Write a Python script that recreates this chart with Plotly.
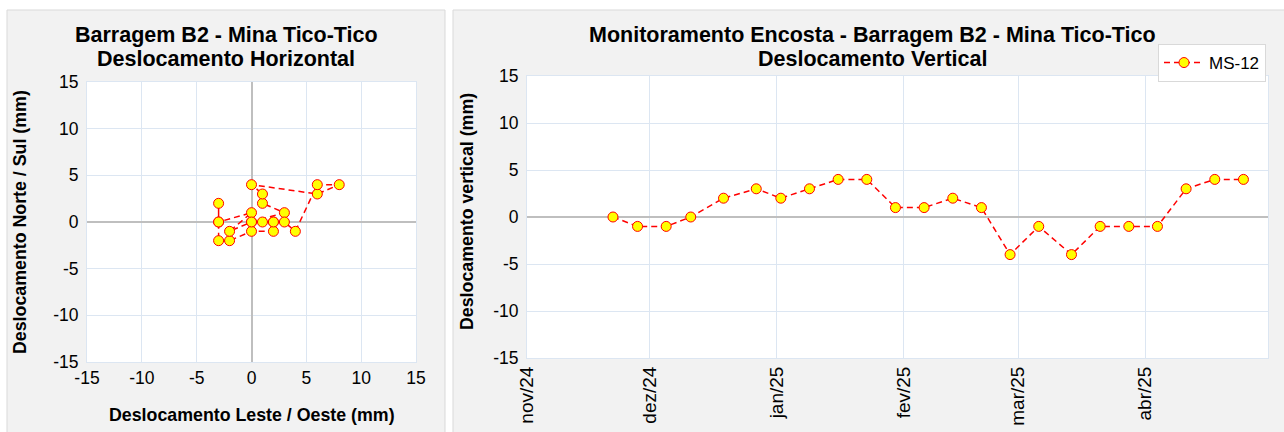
import plotly.graph_objects as go

W, H = 1284, 432

# ---- Data ----
# Horizontal displacement (East/West, North/South) in mm
leste_oeste = [0, 1, 2, 2, 0, -2, -3, -3, -3, -3, 0, -2, 0, 3, 1, 1, 0, 6, 8, 6, 4, 3, 2]
norte_sul = [0, 0, 0, -1, -1, -2, -2, 0, 2, 0, 1, -1, 0, 1, 2, 3, 4, 3, 4, 4, -1, 0, 0]

# Vertical displacement time series (MS-12)
datas = ["2024-11-22", "2024-11-28", "2024-12-05", "2024-12-11", "2024-12-19", "2024-12-27",
         "2025-01-02", "2025-01-09", "2025-01-16", "2025-01-23", "2025-01-30", "2025-02-06",
         "2025-02-13", "2025-02-20", "2025-02-27", "2025-03-06", "2025-03-14", "2025-03-21",
         "2025-03-28", "2025-04-04", "2025-04-11", "2025-04-18", "2025-04-25"]
vertical = [0, -1, -1, 0, 2, 3, 2, 3, 4, 4, 1, 1, 2, 1, -4, -1, -4, -1, -1, -1, 3, 4, 4]

mes_vals = ["2024-11-01", "2024-12-01", "2025-01-01", "2025-02-01", "2025-03-01", "2025-04-01"]
mes_text = ["nov/24", "dez/24", "jan/25", "fev/25", "mar/25", "abr/25"]
eixo_vals = [-15, -10, -5, 0, 5, 10, 15]
eixo_text = ["-15", "-10", "-5", "0", "5", "10", "15"]

FONT = "Arial, Liberation Sans, sans-serif"
GRID = "#dce6f2"
ZERO = "#bfbfbf"
PANEL = "#f2f2f2"
TICK_SIZE = 17.5
DATE_TICK_SIZE = 19
AXTITLE_SIZE = 17.8
TITLE_SIZE = 21.5

def px(x):
    return x / W

def py(y):
    return 1 - y / H

marker = dict(size=10, color="#ffff00", line=dict(color="#ff0000", width=1))
line = dict(color="#ff0000", width=1.5, dash="6px,4px")

fig = go.Figure()
fig.add_trace(go.Scatter(x=leste_oeste, y=norte_sul, mode="lines+markers",
                         marker=marker, line=line, showlegend=False,
                         xaxis="x", yaxis="y"))
fig.add_trace(go.Scatter(x=datas, y=vertical, mode="lines+markers",
                         marker=marker, line=line, name="MS-12",
                         xaxis="x2", yaxis="y2"))

axis_common = dict(showgrid=True, gridcolor=GRID, gridwidth=1,
                   showline=True, linecolor=GRID, linewidth=1, mirror=True,
                   ticks="", automargin=False, fixedrange=True)
tickfont = dict(family=FONT, size=TICK_SIZE, color="#000")


def text_ann(text, x, y, size, angle=0):
    return dict(text=text, xref="paper", yref="paper", x=px(x), y=py(y),
                xanchor="center", yanchor="middle", showarrow=False,
                textangle=angle, font=dict(family=FONT, size=size, color="#000"))


fig.update_layout(
    width=W, height=H, autosize=False,
    margin=dict(l=0, r=0, t=0, b=0, pad=0, autoexpand=False),
    paper_bgcolor="white",
    plot_bgcolor="rgba(0,0,0,0)",
    font=dict(family=FONT, color="#000"),
    xaxis=dict(domain=[px(87), px(416)], range=[-15, 15],
               tickvals=eixo_vals, ticktext=eixo_text, tickfont=tickfont,
               zeroline=True, zerolinecolor=ZERO, zerolinewidth=2,
               anchor="y", **axis_common),
    yaxis=dict(domain=[py(362), py(82)], range=[-15, 15],
               tickvals=eixo_vals, ticktext=eixo_text, tickfont=tickfont,
               zeroline=True, zerolinecolor=ZERO, zerolinewidth=2,
               anchor="x", ticklabelstandoff=4, **axis_common),
    xaxis2=dict(domain=[px(527), px(1268)], type="date",
                range=["2024-11-01", "2025-05-01"],
                tickvals=mes_vals, ticktext=mes_text, tickangle=-90,
                tickfont=dict(family=FONT, size=DATE_TICK_SIZE, color="#000"),
                zeroline=False, anchor="y2", **axis_common),
    yaxis2=dict(domain=[py(358), py(76)], range=[-15, 15],
                tickvals=eixo_vals, ticktext=eixo_text, tickfont=tickfont,
                zeroline=True, zerolinecolor=ZERO, zerolinewidth=2,
                anchor="x2", ticklabelstandoff=4, **axis_common),
    legend=dict(x=px(1266), y=py(44), xanchor="right", yanchor="top",
                bgcolor="white", bordercolor="#d9d9d9", borderwidth=1,
                font=dict(family=FONT, size=17, color="#000"),
                itemwidth=40, tracegroupgap=0),
    shapes=[
        dict(type="rect", xref="paper", yref="paper", layer="below",
             x0=px(7), x1=px(445), y0=py(440), y1=py(10),
             fillcolor=PANEL, line=dict(color="#d9d9d9", width=1)),
        dict(type="rect", xref="paper", yref="paper", layer="below",
             x0=px(453), x1=px(1295), y0=py(440), y1=py(10),
             fillcolor=PANEL, line=dict(color="#d9d9d9", width=1)),
        dict(type="rect", xref="paper", yref="paper", layer="below",
             x0=px(87), x1=px(416), y0=py(362), y1=py(82),
             fillcolor="white", line=dict(width=0)),
        dict(type="rect", xref="paper", yref="paper", layer="below",
             x0=px(527), x1=px(1268), y0=py(358), y1=py(76),
             fillcolor="white", line=dict(width=0)),
    ],
    annotations=[
        text_ann("<b>Barragem B2 - Mina Tico-Tico</b>", 226, 35, TITLE_SIZE),
        text_ann("<b>Deslocamento Horizontal</b>", 226, 59, TITLE_SIZE),
        text_ann("<b>Monitoramento Encosta - Barragem B2 - Mina Tico-Tico</b>", 872, 35, TITLE_SIZE),
        text_ann("<b>Deslocamento Vertical</b>", 872, 59, TITLE_SIZE),
        text_ann("<b>Deslocamento Leste / Oeste (mm)</b>", 252, 415, AXTITLE_SIZE),
        text_ann("<b>Deslocamento Norte / Sul (mm)</b>", 20, 222, AXTITLE_SIZE, -90),
        text_ann("<b>Deslocamento vertical (mm)</b>", 467, 212, AXTITLE_SIZE, -90),
    ],
)

fig.write_html("out.html", config={"displayModeBar": False},
               post_script="document.body.style.margin='0';document.body.style.overflow='hidden';")
